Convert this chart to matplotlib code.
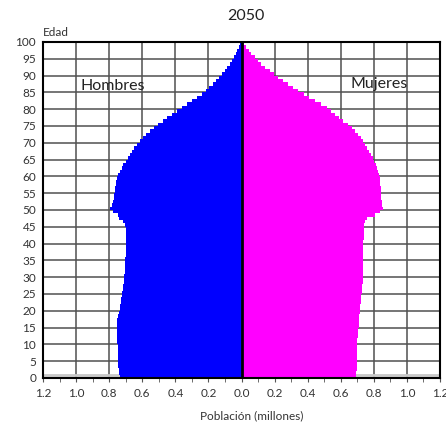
import numpy as np
import matplotlib
matplotlib.use('Agg')
import matplotlib.pyplot as plt

plt.rcParams['font.family'] = ['Lato', 'DejaVu Sans']

# Población por edad simple (millones), 0..100
ages = list(range(0, 101))
hombres = [
    0.735, 0.740, 0.742, 0.744, 0.745, 0.746, 0.747, 0.748, 0.748, 0.749,
    0.750, 0.750, 0.751, 0.752, 0.752, 0.753, 0.753, 0.752, 0.745, 0.740,
    0.737, 0.734, 0.730, 0.727, 0.724, 0.720, 0.718, 0.715, 0.712, 0.710,
    0.708, 0.706, 0.705, 0.704, 0.703, 0.702, 0.701, 0.700, 0.700, 0.699,
    0.699, 0.699, 0.700, 0.700, 0.701, 0.703, 0.716, 0.740, 0.748, 0.775,
    0.795, 0.785, 0.775, 0.770, 0.768, 0.765, 0.763, 0.760, 0.756, 0.750,
    0.744, 0.735, 0.725, 0.715, 0.700, 0.688, 0.675, 0.662, 0.648, 0.630,
    0.612, 0.595, 0.575, 0.553, 0.530, 0.505, 0.475, 0.450, 0.420, 0.390,
    0.360, 0.330, 0.300, 0.270, 0.240, 0.215, 0.195, 0.175, 0.155, 0.135,
    0.115, 0.100, 0.085, 0.072, 0.060, 0.048, 0.036, 0.026, 0.017, 0.010,
    0.005]
mujeres = [
    0.695, 0.695, 0.696, 0.696, 0.697, 0.698, 0.698, 0.699, 0.699, 0.700,
    0.700, 0.701, 0.703, 0.704, 0.706, 0.708, 0.709, 0.711, 0.713, 0.714,
    0.716, 0.718, 0.720, 0.722, 0.724, 0.726, 0.728, 0.730, 0.732, 0.733,
    0.734, 0.735, 0.735, 0.736, 0.736, 0.736, 0.736, 0.737, 0.737, 0.737,
    0.737, 0.738, 0.738, 0.739, 0.739, 0.740, 0.745, 0.757, 0.810, 0.835,
    0.853, 0.850, 0.848, 0.846, 0.845, 0.843, 0.842, 0.840, 0.838, 0.836,
    0.833, 0.828, 0.820, 0.812, 0.803, 0.795, 0.785, 0.773, 0.760, 0.748,
    0.735, 0.720, 0.705, 0.688, 0.670, 0.645, 0.615, 0.590, 0.565, 0.540,
    0.515, 0.480, 0.445, 0.410, 0.375, 0.340, 0.310, 0.280, 0.250, 0.220,
    0.195, 0.170, 0.145, 0.120, 0.100, 0.080, 0.060, 0.045, 0.030, 0.015,
    0.005]

x_ticks = np.round(np.arange(-1.2, 1.21, 0.2), 1)
x_labels = ['%.1f' % abs(v) for v in x_ticks]
y_ticks = list(range(0, 101, 5))

fig = plt.figure(figsize=(4.46, 4.25), dpi=100)
ax = fig.add_axes([43 / 446, 1 - 378 / 425, 397 / 446, 336 / 425])

ax.barh(ages, [-v for v in hombres], height=1.0, align='edge',
        color='#0000ff', linewidth=0, zorder=2)
ax.barh(ages, mujeres, height=1.0, align='edge',
        color='#ff00ff', linewidth=0, zorder=2)

# rejilla
for yv in y_ticks[1:-1]:
    ax.axhline(yv, color='#505050', lw=1.1, zorder=1)
for xv in x_ticks[1:-1]:
    ax.axvline(xv, color='#505050', lw=1.1, zorder=1)
ax.axhline(0.8, color='#c8c8c8', lw=2.0, zorder=1)
ax.axvline(0, color='black', lw=2.0, zorder=3)

ax.set_xlim(-1.2, 1.2)
ax.set_ylim(0, 100)
ax.set_xticks(x_ticks)
ax.set_xticklabels(x_labels)
ax.set_xticks(np.round(np.arange(-1.1, 1.2, 0.2), 1), minor=True)
ax.set_yticks(y_ticks)
ax.tick_params(axis='x', which='both', direction='out', length=3,
               color='#555555', labelsize=8.5, labelcolor='#333333', pad=4)
ax.tick_params(axis='y', length=0, labelsize=8.5, labelcolor='#333333', pad=5)
for s in ax.spines.values():
    s.set_color('black')
    s.set_linewidth(1.5)

ax.text(-0.976, 86.9, 'Hombres', fontsize=11.5, color='#222222',
        va='center', ha='left', zorder=4)
ax.text(0.656, 87.5, 'Mujeres', fontsize=11.5, color='#222222',
        va='center', ha='left', zorder=4)

fig.text(43 / 446, 1 - 32 / 425, 'Edad', fontsize=8.5, color='#333333',
         va='center', ha='left')
fig.text(246 / 446, 1 - 16 / 425, '2050', fontsize=11.5, color='#222222',
         va='center', ha='center')
fig.text(252 / 446, 1 - 416 / 425, 'Población (millones)', fontsize=8.5,
         color='#333333', va='center', ha='center')

fig.savefig('out.png', dpi=100)
